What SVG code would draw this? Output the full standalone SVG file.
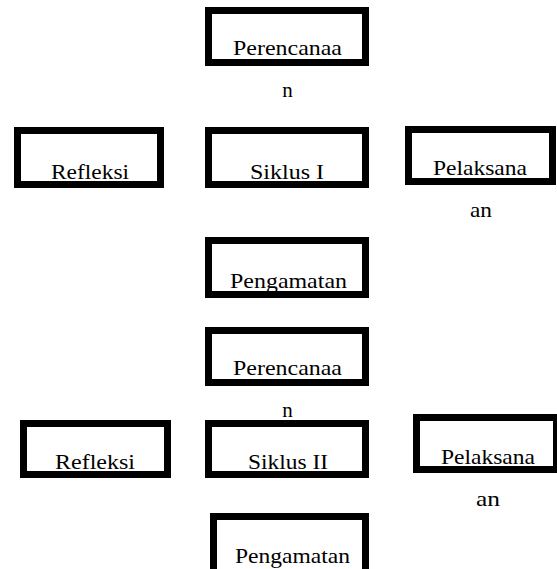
<svg xmlns="http://www.w3.org/2000/svg" width="557" height="569" viewBox="0 0 557 569">
<style>
.box{fill:#fff;stroke:#000;stroke-width:7}
.t{font-size:21px;fill:#000;text-anchor:middle}
</style>
<rect width="557" height="569" fill="#fff"/>
<g id="connectors"></g>
<g font-family="'Liberation Serif', 'DejaVu Serif', serif">
<g id="perencanaan1">
<rect class="box" x="208.5" y="10.5" width="157" height="52"/>
<text class="t" x="287.5" y="55" textLength="109" lengthAdjust="spacingAndGlyphs">Perencanaa</text>
<text class="t" x="287.5" y="97">n</text>
</g>
<g id="refleksi1">
<rect class="box" x="17.5" y="130.5" width="143" height="54"/>
<text class="t" x="90" y="179" textLength="78" lengthAdjust="spacingAndGlyphs">Refleksi</text>
</g>
<g id="siklus1">
<rect class="box" x="208.5" y="130.5" width="157" height="54"/>
<text class="t" x="287" y="179" textLength="74" lengthAdjust="spacingAndGlyphs">Siklus I</text>
</g>
<g id="pelaksanaan1">
<rect class="box" x="408.5" y="129.5" width="144" height="52"/>
<text class="t" x="480" y="175" textLength="94" lengthAdjust="spacingAndGlyphs">Pelaksana</text>
<text class="t" x="481" y="217" textLength="22" lengthAdjust="spacingAndGlyphs">an</text>
</g>
<g id="pengamatan1">
<rect class="box" x="208.5" y="240.5" width="157" height="54"/>
<text class="t" x="288.5" y="288" textLength="117" lengthAdjust="spacingAndGlyphs">Pengamatan</text>
</g>
<g id="perencanaan2">
<rect class="box" x="208.5" y="330.5" width="157" height="52"/>
<text class="t" x="287.5" y="375" textLength="109" lengthAdjust="spacingAndGlyphs">Perencanaa</text>
<text class="t" x="287.5" y="417">n</text>
</g>
<g id="refleksi2">
<rect class="box" x="23.5" y="423.5" width="144" height="51"/>
<text class="t" x="95" y="469" textLength="80" lengthAdjust="spacingAndGlyphs">Refleksi</text>
</g>
<g id="siklus2">
<rect class="box" x="208.5" y="423.5" width="157" height="51"/>
<text class="t" x="288" y="469" textLength="80" lengthAdjust="spacingAndGlyphs">Siklus II</text>
</g>
<g id="pelaksanaan2">
<rect class="box" x="416.5" y="417.5" width="140" height="52"/>
<text class="t" x="488" y="464" textLength="94" lengthAdjust="spacingAndGlyphs">Pelaksana</text>
<text class="t" x="488" y="506" textLength="24" lengthAdjust="spacingAndGlyphs">an</text>
</g>
<g id="pengamatan2">
<rect class="box" x="213.5" y="516.5" width="152" height="60"/>
<text class="t" x="292.5" y="563" textLength="115" lengthAdjust="spacingAndGlyphs">Pengamatan</text>
</g>
</g>
</svg>
